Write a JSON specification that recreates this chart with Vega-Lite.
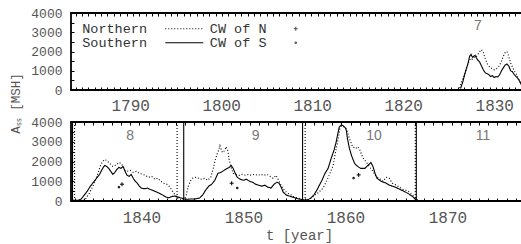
{
  "$schema": "https://vega.github.io/schema/vega-lite/v6.json",
  "background": "white",
  "padding": {"left": 8, "top": 6, "right": 0, "bottom": 0},
  "bounds": "flush",
  "spacing": 32,
  "config": {
    "view": {"stroke": "#000", "strokeWidth": 1.8},
    "axis": {"grid": false, "domain": false, "labelFont": "Liberation Mono", "labelColor": "#555", "titleFont": "Liberation Mono", "titleColor": "#555", "titleFontWeight": "normal", "tickColor": "#000", "tickWidth": 1, "labelFlush": false, "format": "d"}
  },
  "datasets": {
    "topLines": [
      {"t":1826.3,"v":80,"h":"Southern"},{"t":1826.5,"v":350,"h":"Southern"},{"t":1826.7,"v":700,"h":"Southern"},{"t":1826.9,"v":1050,"h":"Southern"},{"t":1827.1,"v":1350,"h":"Southern"},{"t":1827.3,"v":1750,"h":"Southern"},{"t":1827.45,"v":1850,"h":"Southern"},{"t":1827.6,"v":1700,"h":"Southern"},{"t":1827.75,"v":1750,"h":"Southern"},{"t":1827.9,"v":1800,"h":"Southern"},{"t":1828.05,"v":1650,"h":"Southern"},{"t":1828.2,"v":1550,"h":"Southern"},{"t":1828.4,"v":1450,"h":"Southern"},{"t":1828.6,"v":1250,"h":"Southern"},{"t":1828.8,"v":1050,"h":"Southern"},{"t":1829.0,"v":900,"h":"Southern"},{"t":1829.2,"v":850,"h":"Southern"},{"t":1829.4,"v":800,"h":"Southern"},{"t":1829.6,"v":700,"h":"Southern"},{"t":1829.8,"v":750,"h":"Southern"},{"t":1830.0,"v":650,"h":"Southern"},{"t":1830.2,"v":700,"h":"Southern"},{"t":1830.4,"v":680,"h":"Southern"},{"t":1830.6,"v":800,"h":"Southern"},{"t":1830.8,"v":1000,"h":"Southern"},{"t":1831.0,"v":1150,"h":"Southern"},{"t":1831.2,"v":1300,"h":"Southern"},{"t":1831.4,"v":1350,"h":"Southern"},{"t":1831.6,"v":1250,"h":"Southern"},{"t":1831.8,"v":1000,"h":"Southern"},{"t":1832.0,"v":950,"h":"Southern"},{"t":1832.2,"v":800,"h":"Southern"},{"t":1832.4,"v":700,"h":"Southern"},{"t":1832.6,"v":600,"h":"Southern"},{"t":1832.8,"v":450,"h":"Southern"},{"t":1833.0,"v":250,"h":"Southern"},{"t":1833.2,"v":100,"h":"Southern"},{"t":1833.4,"v":30,"h":"Southern"},
      {"t":1826.2,"v":100,"h":"Northern"},{"t":1826.4,"v":400,"h":"Northern"},{"t":1826.6,"v":650,"h":"Northern"},{"t":1826.8,"v":900,"h":"Northern"},{"t":1827.0,"v":1200,"h":"Northern"},{"t":1827.2,"v":1450,"h":"Northern"},{"t":1827.4,"v":1650,"h":"Northern"},{"t":1827.6,"v":1600,"h":"Northern"},{"t":1827.8,"v":1700,"h":"Northern"},{"t":1828.0,"v":1700,"h":"Northern"},{"t":1828.2,"v":1850,"h":"Northern"},{"t":1828.4,"v":2000,"h":"Northern"},{"t":1828.6,"v":2100,"h":"Northern"},{"t":1828.8,"v":1950,"h":"Northern"},{"t":1829.0,"v":1650,"h":"Northern"},{"t":1829.2,"v":1400,"h":"Northern"},{"t":1829.4,"v":1250,"h":"Northern"},{"t":1829.6,"v":1150,"h":"Northern"},{"t":1829.8,"v":1100,"h":"Northern"},{"t":1830.0,"v":1050,"h":"Northern"},{"t":1830.2,"v":1100,"h":"Northern"},{"t":1830.4,"v":1150,"h":"Northern"},{"t":1830.6,"v":1300,"h":"Northern"},{"t":1830.8,"v":1500,"h":"Northern"},{"t":1831.0,"v":1750,"h":"Northern"},{"t":1831.2,"v":1950,"h":"Northern"},{"t":1831.4,"v":2000,"h":"Northern"},{"t":1831.6,"v":1750,"h":"Northern"},{"t":1831.8,"v":1400,"h":"Northern"},{"t":1832.0,"v":1200,"h":"Northern"},{"t":1832.2,"v":1000,"h":"Northern"},{"t":1832.4,"v":850,"h":"Northern"},{"t":1832.6,"v":650,"h":"Northern"},{"t":1832.8,"v":450,"h":"Northern"},{"t":1833.0,"v":250,"h":"Northern"},{"t":1833.2,"v":80,"h":"Northern"},{"t":1833.4,"v":20,"h":"Northern"}
    ],
    "botLines": [
      {"t":1833.1,"v":30,"h":"Southern"},{"t":1833.4,"v":30,"h":"Southern"},{"t":1833.8,"v":40,"h":"Southern"},{"t":1834.1,"v":100,"h":"Southern"},{"t":1834.4,"v":300,"h":"Southern"},{"t":1834.7,"v":500,"h":"Southern"},{"t":1835.0,"v":750,"h":"Southern"},{"t":1835.3,"v":950,"h":"Southern"},{"t":1835.6,"v":1150,"h":"Southern"},{"t":1835.9,"v":1350,"h":"Southern"},{"t":1836.2,"v":1650,"h":"Southern"},{"t":1836.4,"v":1800,"h":"Southern"},{"t":1836.6,"v":1750,"h":"Southern"},{"t":1836.8,"v":1650,"h":"Southern"},{"t":1837.0,"v":1500,"h":"Southern"},{"t":1837.2,"v":1350,"h":"Southern"},{"t":1837.4,"v":1450,"h":"Southern"},{"t":1837.6,"v":1600,"h":"Southern"},{"t":1837.8,"v":1700,"h":"Southern"},{"t":1838.0,"v":1650,"h":"Southern"},{"t":1838.2,"v":1750,"h":"Southern"},{"t":1838.4,"v":1500,"h":"Southern"},{"t":1838.6,"v":1300,"h":"Southern"},{"t":1838.8,"v":1250,"h":"Southern"},{"t":1839.0,"v":1350,"h":"Southern"},{"t":1839.2,"v":1150,"h":"Southern"},{"t":1839.4,"v":1000,"h":"Southern"},{"t":1839.6,"v":900,"h":"Southern"},{"t":1839.8,"v":750,"h":"Southern"},{"t":1840.0,"v":650,"h":"Southern"},{"t":1840.3,"v":620,"h":"Southern"},{"t":1840.6,"v":650,"h":"Southern"},{"t":1840.9,"v":580,"h":"Southern"},{"t":1841.2,"v":520,"h":"Southern"},{"t":1841.5,"v":450,"h":"Southern"},{"t":1841.8,"v":380,"h":"Southern"},{"t":1842.1,"v":300,"h":"Southern"},{"t":1842.4,"v":200,"h":"Southern"},{"t":1842.7,"v":160,"h":"Southern"},{"t":1843.0,"v":230,"h":"Southern"},{"t":1843.3,"v":250,"h":"Southern"},{"t":1843.6,"v":200,"h":"Southern"},{"t":1843.9,"v":150,"h":"Southern"},{"t":1844.2,"v":100,"h":"Southern"},{"t":1844.5,"v":90,"h":"Southern"},{"t":1844.8,"v":100,"h":"Southern"},{"t":1845.1,"v":100,"h":"Southern"},{"t":1845.4,"v":120,"h":"Southern"},{"t":1845.7,"v":150,"h":"Southern"},{"t":1846.0,"v":300,"h":"Southern"},{"t":1846.3,"v":550,"h":"Southern"},{"t":1846.6,"v":750,"h":"Southern"},{"t":1846.9,"v":850,"h":"Southern"},{"t":1847.2,"v":1050,"h":"Southern"},{"t":1847.5,"v":1400,"h":"Southern"},{"t":1847.8,"v":1450,"h":"Southern"},{"t":1848.1,"v":1550,"h":"Southern"},{"t":1848.4,"v":1650,"h":"Southern"},{"t":1848.6,"v":1700,"h":"Southern"},{"t":1848.8,"v":1800,"h":"Southern"},{"t":1849.0,"v":1650,"h":"Southern"},{"t":1849.2,"v":1400,"h":"Southern"},{"t":1849.4,"v":1200,"h":"Southern"},{"t":1849.7,"v":1100,"h":"Southern"},{"t":1850.0,"v":1050,"h":"Southern"},{"t":1850.3,"v":1100,"h":"Southern"},{"t":1850.6,"v":1000,"h":"Southern"},{"t":1850.9,"v":950,"h":"Southern"},{"t":1851.2,"v":850,"h":"Southern"},{"t":1851.5,"v":800,"h":"Southern"},{"t":1851.8,"v":750,"h":"Southern"},{"t":1852.1,"v":800,"h":"Southern"},{"t":1852.4,"v":700,"h":"Southern"},{"t":1852.7,"v":650,"h":"Southern"},{"t":1853.0,"v":850,"h":"Southern"},{"t":1853.3,"v":950,"h":"Southern"},{"t":1853.5,"v":900,"h":"Southern"},{"t":1853.7,"v":700,"h":"Southern"},{"t":1853.9,"v":450,"h":"Southern"},{"t":1854.2,"v":300,"h":"Southern"},{"t":1854.5,"v":250,"h":"Southern"},{"t":1854.8,"v":200,"h":"Southern"},{"t":1855.1,"v":150,"h":"Southern"},{"t":1855.4,"v":100,"h":"Southern"},{"t":1855.7,"v":80,"h":"Southern"},{"t":1856.0,"v":50,"h":"Southern"},{"t":1856.3,"v":60,"h":"Southern"},{"t":1856.6,"v":150,"h":"Southern"},{"t":1856.9,"v":300,"h":"Southern"},{"t":1857.2,"v":550,"h":"Southern"},{"t":1857.5,"v":850,"h":"Southern"},{"t":1857.7,"v":1050,"h":"Southern"},{"t":1858.0,"v":1400,"h":"Southern"},{"t":1858.3,"v":1650,"h":"Southern"},{"t":1858.6,"v":2150,"h":"Southern"},{"t":1858.9,"v":2600,"h":"Southern"},{"t":1859.1,"v":3000,"h":"Southern"},{"t":1859.25,"v":3400,"h":"Southern"},{"t":1859.4,"v":3750,"h":"Southern"},{"t":1859.6,"v":3850,"h":"Southern"},{"t":1859.8,"v":3800,"h":"Southern"},{"t":1860.0,"v":3700,"h":"Southern"},{"t":1860.1,"v":3550,"h":"Southern"},{"t":1860.2,"v":3150,"h":"Southern"},{"t":1860.4,"v":2650,"h":"Southern"},{"t":1860.6,"v":2300,"h":"Southern"},{"t":1860.9,"v":1900,"h":"Southern"},{"t":1861.2,"v":1750,"h":"Southern"},{"t":1861.5,"v":1650,"h":"Southern"},{"t":1861.9,"v":1650,"h":"Southern"},{"t":1862.2,"v":1800,"h":"Southern"},{"t":1862.5,"v":1950,"h":"Southern"},{"t":1862.7,"v":1750,"h":"Southern"},{"t":1862.9,"v":1400,"h":"Southern"},{"t":1863.1,"v":1150,"h":"Southern"},{"t":1863.5,"v":1000,"h":"Southern"},{"t":1864.0,"v":900,"h":"Southern"},{"t":1864.3,"v":800,"h":"Southern"},{"t":1864.8,"v":720,"h":"Southern"},{"t":1865.3,"v":600,"h":"Southern"},{"t":1865.9,"v":450,"h":"Southern"},{"t":1866.3,"v":330,"h":"Southern"},{"t":1866.6,"v":220,"h":"Southern"},{"t":1866.9,"v":60,"h":"Southern"},{"t":1867.1,"v":10,"h":"Southern"},
      {"t":1833.1,"v":20,"h":"Northern"},{"t":1833.8,"v":20,"h":"Northern"},{"t":1834.3,"v":30,"h":"Northern"},{"t":1834.6,"v":150,"h":"Northern"},{"t":1834.9,"v":400,"h":"Northern"},{"t":1835.2,"v":700,"h":"Northern"},{"t":1835.5,"v":1050,"h":"Northern"},{"t":1835.8,"v":1500,"h":"Northern"},{"t":1836.0,"v":1800,"h":"Northern"},{"t":1836.2,"v":2000,"h":"Northern"},{"t":1836.4,"v":2100,"h":"Northern"},{"t":1836.6,"v":2050,"h":"Northern"},{"t":1836.8,"v":1950,"h":"Northern"},{"t":1837.0,"v":1850,"h":"Northern"},{"t":1837.2,"v":1750,"h":"Northern"},{"t":1837.4,"v":1800,"h":"Northern"},{"t":1837.6,"v":1850,"h":"Northern"},{"t":1837.8,"v":1950,"h":"Northern"},{"t":1838.0,"v":1900,"h":"Northern"},{"t":1838.2,"v":1750,"h":"Northern"},{"t":1838.4,"v":1550,"h":"Northern"},{"t":1838.6,"v":1500,"h":"Northern"},{"t":1838.9,"v":1550,"h":"Northern"},{"t":1839.2,"v":1450,"h":"Northern"},{"t":1839.5,"v":1500,"h":"Northern"},{"t":1839.8,"v":1400,"h":"Northern"},{"t":1840.1,"v":1350,"h":"Northern"},{"t":1840.4,"v":1300,"h":"Northern"},{"t":1840.7,"v":1200,"h":"Northern"},{"t":1841.0,"v":1250,"h":"Northern"},{"t":1841.3,"v":1100,"h":"Northern"},{"t":1841.6,"v":1150,"h":"Northern"},{"t":1841.9,"v":1000,"h":"Northern"},{"t":1842.2,"v":900,"h":"Northern"},{"t":1842.5,"v":850,"h":"Northern"},{"t":1842.8,"v":700,"h":"Northern"},{"t":1843.1,"v":450,"h":"Northern"},{"t":1843.4,"v":250,"h":"Northern"},{"t":1843.6,"v":100,"h":"Northern"},{"t":1843.9,"v":50,"h":"Northern"},{"t":1844.2,"v":80,"h":"Northern"},{"t":1844.4,"v":300,"h":"Northern"},{"t":1844.6,"v":750,"h":"Northern"},{"t":1844.8,"v":1000,"h":"Northern"},{"t":1845.0,"v":1150,"h":"Northern"},{"t":1845.3,"v":1200,"h":"Northern"},{"t":1845.6,"v":1150,"h":"Northern"},{"t":1845.9,"v":1100,"h":"Northern"},{"t":1846.2,"v":1150,"h":"Northern"},{"t":1846.5,"v":1050,"h":"Northern"},{"t":1846.8,"v":1200,"h":"Northern"},{"t":1847.0,"v":1550,"h":"Northern"},{"t":1847.2,"v":2000,"h":"Northern"},{"t":1847.4,"v":2350,"h":"Northern"},{"t":1847.6,"v":2600,"h":"Northern"},{"t":1847.7,"v":2800,"h":"Northern"},{"t":1847.9,"v":2500,"h":"Northern"},{"t":1848.0,"v":2450,"h":"Northern"},{"t":1848.2,"v":2600,"h":"Northern"},{"t":1848.3,"v":2750,"h":"Northern"},{"t":1848.5,"v":2500,"h":"Northern"},{"t":1848.6,"v":2100,"h":"Northern"},{"t":1848.8,"v":1700,"h":"Northern"},{"t":1849.0,"v":1400,"h":"Northern"},{"t":1849.3,"v":1350,"h":"Northern"},{"t":1849.6,"v":1300,"h":"Northern"},{"t":1849.9,"v":1350,"h":"Northern"},{"t":1850.2,"v":1300,"h":"Northern"},{"t":1850.5,"v":1350,"h":"Northern"},{"t":1850.8,"v":1300,"h":"Northern"},{"t":1851.1,"v":1350,"h":"Northern"},{"t":1851.4,"v":1300,"h":"Northern"},{"t":1851.7,"v":1350,"h":"Northern"},{"t":1852.0,"v":1300,"h":"Northern"},{"t":1852.3,"v":1350,"h":"Northern"},{"t":1852.6,"v":1250,"h":"Northern"},{"t":1852.9,"v":1150,"h":"Northern"},{"t":1853.2,"v":1300,"h":"Northern"},{"t":1853.4,"v":1100,"h":"Northern"},{"t":1853.7,"v":800,"h":"Northern"},{"t":1854.0,"v":550,"h":"Northern"},{"t":1854.3,"v":400,"h":"Northern"},{"t":1854.7,"v":300,"h":"Northern"},{"t":1855.0,"v":200,"h":"Northern"},{"t":1855.4,"v":150,"h":"Northern"},{"t":1855.8,"v":80,"h":"Northern"},{"t":1856.1,"v":40,"h":"Northern"},{"t":1856.4,"v":80,"h":"Northern"},{"t":1856.7,"v":150,"h":"Northern"},{"t":1857.0,"v":300,"h":"Northern"},{"t":1857.4,"v":450,"h":"Northern"},{"t":1857.8,"v":650,"h":"Northern"},{"t":1858.1,"v":950,"h":"Northern"},{"t":1858.4,"v":1300,"h":"Northern"},{"t":1858.8,"v":1800,"h":"Northern"},{"t":1858.95,"v":2250,"h":"Northern"},{"t":1859.1,"v":2650,"h":"Northern"},{"t":1859.3,"v":3150,"h":"Northern"},{"t":1859.45,"v":3650,"h":"Northern"},{"t":1859.6,"v":3800,"h":"Northern"},{"t":1859.9,"v":3750,"h":"Northern"},{"t":1860.1,"v":3650,"h":"Northern"},{"t":1860.25,"v":3400,"h":"Northern"},{"t":1860.4,"v":3150,"h":"Northern"},{"t":1860.7,"v":2750,"h":"Northern"},{"t":1861.0,"v":2650,"h":"Northern"},{"t":1861.2,"v":2750,"h":"Northern"},{"t":1861.4,"v":2600,"h":"Northern"},{"t":1861.7,"v":2200,"h":"Northern"},{"t":1862.0,"v":2000,"h":"Northern"},{"t":1862.4,"v":1700,"h":"Northern"},{"t":1862.7,"v":1500,"h":"Northern"},{"t":1863.0,"v":1250,"h":"Northern"},{"t":1863.3,"v":1150,"h":"Northern"},{"t":1863.7,"v":1000,"h":"Northern"},{"t":1864.0,"v":1200,"h":"Northern"},{"t":1864.3,"v":1150,"h":"Northern"},{"t":1864.6,"v":900,"h":"Northern"},{"t":1865.0,"v":800,"h":"Northern"},{"t":1865.3,"v":700,"h":"Northern"},{"t":1865.6,"v":600,"h":"Northern"},{"t":1865.9,"v":550,"h":"Northern"},{"t":1866.3,"v":450,"h":"Northern"},{"t":1866.6,"v":300,"h":"Northern"},{"t":1866.9,"v":100,"h":"Northern"},{"t":1867.2,"v":20,"h":"Northern"}
    ],
    "botCW": [
      {"t":1838.1,"v":850,"cw":"CW of N"},{"t":1837.8,"v":700,"cw":"CW of S"},
      {"t":1848.85,"v":900,"cw":"CW of N"},{"t":1849.4,"v":660,"cw":"CW of S"},
      {"t":1861.3,"v":1320,"cw":"CW of N"},{"t":1860.8,"v":1160,"cw":"CW of S"}
    ],
    "botBounds": [
      {"t":1833.25,"h":"Southern"},{"t":1833.45,"h":"Northern"},
      {"t":1843.5,"h":"Northern"},{"t":1844.15,"h":"Southern"},
      {"t":1855.8,"h":"Southern"},{"t":1856.05,"h":"Northern"},
      {"t":1866.85,"h":"Northern"},{"t":1866.95,"h":"Southern"}
    ],
    "topLabels": [{"t":1828.2,"v":3300,"lab":"7"}],
    "botLabels": [
      {"t":1838.9,"v":3300,"lab":"8"},{"t":1851.2,"v":3300,"lab":"9"},
      {"t":1862.8,"v":3300,"lab":"10"},{"t":1873.5,"v":3300,"lab":"11"}
    ]
  },
  "resolve": {"scale": {"x": "independent", "y": "independent", "strokeDash": "independent", "shape": "independent"}},
  "vconcat": [
    {
      "width": 456,
      "height": 77,
      "resolve": {"axis": {"x": "independent", "y": "independent"}},
      "layer": [
        {
          "data": {"name": "topLines"},
          "mark": {"type": "line", "clip": true, "strokeWidth": 1.1, "color": "#000"},
          "encoding": {
            "x": {"field": "t", "type": "quantitative", "scale": {"domain": [1783.5, 1833.6], "nice": false, "zero": false},
                  "axis": {"orient": "bottom", "values": [1790, 1800, 1810, 1820, 1830], "ticks": false, "labelPadding": 7, "labelFontSize": 16, "title": null}},
            "y": {"field": "v", "type": "quantitative", "scale": {"domain": [0, 4000], "nice": false, "zero": true},
                  "axis": {"orient": "left", "values": [0, 1000, 2000, 3000, 4000], "ticks": false, "labelPadding": 9, "labelFontSize": 13, "title": null}},
            "strokeDash": {"field": "h", "type": "nominal", "scale": {"domain": ["Northern", "Southern"], "range": [[1, 2], [1, 0]]},
                  "legend": {"orient": "none", "legendX": 106.5, "legendY": 9, "title": null, "symbolType": "M-4,0H4", "symbolSize": 90, "symbolStrokeWidth": 1.1, "symbolStrokeColor": "#000", "labelAlign": "right", "labelOffset": -44, "padding": 0, "rowPadding": -3, "labelFont": "Liberation Mono", "labelFontSize": 13.5, "labelColor": "#333"}},
            "detail": {"field": "h"}
          }
        },
        {
          "data": {"values": []},
          "mark": {"type": "point", "filled": false, "stroke": "#000", "strokeWidth": 1, "size": 16, "clip": true},
          "encoding": {
            "x": {"field": "t", "type": "quantitative", "axis": {"orient": "top", "values": [1784.0,1784.7,1785.4,1786.1,1786.8,1787.5,1788.2,1788.9,1789.6,1790.3,1791.0,1791.7,1792.4,1793.1,1793.8,1794.5,1795.2,1795.9,1796.6,1797.3,1798.0,1798.7,1799.4,1800.1,1800.8,1801.5,1802.2,1802.9,1803.6,1804.3,1805.0,1805.7,1806.4,1807.1,1807.8,1808.5,1809.2,1809.9,1810.6,1811.3,1812.0,1812.7,1813.4,1814.1,1814.8,1815.5,1816.2,1816.9,1817.6,1818.3,1819.0,1819.7,1820.4,1821.1,1821.8,1822.5,1823.2,1823.9,1824.6,1825.3,1826.0,1826.7,1827.4,1828.1,1828.8,1829.5,1830.2,1830.9,1831.6,1832.3,1833.0], "labels": false, "tickSize": -3, "title": null}},
            "y": {"field": "v", "type": "quantitative", "axis": {"orient": "left", "values": [0,500,1000,1500,2000,2500,3000,3500,4000], "labels": false, "tickSize": -3, "title": null}},
            "shape": {"field": "cw", "type": "nominal", "scale": {"domain": ["CW of N", "CW of S"], "range": ["M-1,0L1,0M0,-1L0,1", "M-0.35,-0.35L0.35,-0.35L0.35,0.35L-0.35,0.35Z"]},
                  "legend": {"orient": "none", "legendX": 218, "legendY": 9, "title": null, "symbolSize": 16, "symbolStrokeWidth": 1, "symbolStrokeColor": "#000", "symbolFillColor": "transparent", "labelAlign": "right", "labelOffset": -36, "padding": 0, "rowPadding": -3, "labelFont": "Liberation Mono", "labelFontSize": 13.5, "labelColor": "#333"}}
          }
        },
        {
          "data": {"name": "topLabels"},
          "mark": {"type": "text", "font": "Liberation Sans", "fontSize": 14, "color": "#777", "baseline": "middle", "align": "center"},
          "encoding": {
            "x": {"field": "t", "type": "quantitative", "axis": {"orient": "bottom", "values": [1784.0,1784.7,1785.4,1786.1,1786.8,1787.5,1788.2,1788.9,1789.6,1790.3,1791.0,1791.7,1792.4,1793.1,1793.8,1794.5,1795.2,1795.9,1796.6,1797.3,1798.0,1798.7,1799.4,1800.1,1800.8,1801.5,1802.2,1802.9,1803.6,1804.3,1805.0,1805.7,1806.4,1807.1,1807.8,1808.5,1809.2,1809.9,1810.6,1811.3,1812.0,1812.7,1813.4,1814.1,1814.8,1815.5,1816.2,1816.9,1817.6,1818.3,1819.0,1819.7,1820.4,1821.1,1821.8,1822.5,1823.2,1823.9,1824.6,1825.3,1826.0,1826.7,1827.4,1828.1,1828.8,1829.5,1830.2,1830.9,1831.6,1832.3,1833.0], "labels": false, "tickSize": -3, "title": null}},
            "y": {"field": "v", "type": "quantitative", "axis": {"orient": "right", "values": [1000, 2000, 3000], "labels": false, "tickSize": -3, "title": null}},
            "text": {"field": "lab"}
          }
        }
      ]
    },
    {
      "width": 456,
      "height": 79,
      "resolve": {"axis": {"x": "independent", "y": "independent"}},
      "layer": [
        {
          "data": {"name": "botLines"},
          "mark": {"type": "line", "clip": true, "strokeWidth": 1.1, "color": "#000"},
          "encoding": {
            "x": {"field": "t", "type": "quantitative", "scale": {"domain": [1833.1, 1877.8], "nice": false, "zero": false},
                  "axis": {"orient": "bottom", "values": [1840, 1850, 1860, 1870], "ticks": false, "labelPadding": 8, "labelFontSize": 16, "title": "t [year]", "titleFontSize": 14, "titlePadding": 3}},
            "y": {"field": "v", "type": "quantitative", "scale": {"domain": [0, 4000], "nice": false, "zero": true},
                  "axis": {"orient": "left", "values": [0, 1000, 2000, 3000, 4000], "ticks": false, "labelPadding": 9, "labelFontSize": 13, "title": "Aₛₛ [MSH]", "titleFontSize": 12.5, "titleX": -52, "titleY": -19, "titleAlign": "center", "titleBaseline": "alphabetic", "titleAngle": 270}},
            "strokeDash": {"field": "h", "type": "nominal", "scale": {"domain": ["Northern", "Southern"], "range": [[1, 2], [1, 0]]}, "legend": null},
            "detail": {"field": "h"}
          }
        },
        {
          "data": {"name": "botBounds"},
          "mark": {"type": "rule", "strokeWidth": 1.1, "color": "#000"},
          "encoding": {
            "x": {"field": "t", "type": "quantitative", "axis": null},
            "strokeDash": {"field": "h", "type": "nominal", "legend": null}
          }
        },
        {
          "data": {"name": "botCW"},
          "mark": {"type": "point", "filled": false, "stroke": "#000", "strokeWidth": 1, "size": 16, "opacity": 1, "clip": true},
          "encoding": {
            "x": {"field": "t", "type": "quantitative", "axis": {"orient": "top", "values": [1833.5,1834.4,1835.3,1836.2,1837.1,1838.0,1838.9,1839.8,1840.7,1841.6,1842.5,1843.4,1844.3,1845.2,1846.1,1847.0,1847.9,1848.8,1849.7,1850.6,1851.5,1852.4,1853.3,1854.2,1855.1,1856.0,1856.9,1857.8,1858.7,1859.6,1860.5,1861.4,1862.3,1863.2,1864.1,1865.0,1865.9,1866.8,1867.7,1868.6,1869.5,1870.4,1871.3,1872.2,1873.1,1874.0,1874.9,1875.8,1876.7,1877.6], "labels": false, "tickSize": -3, "title": null}},
            "y": {"field": "v", "type": "quantitative", "axis": {"orient": "left", "values": [0,500,1000,1500,2000,2500,3000,3500,4000], "labels": false, "tickSize": -3, "title": null}},
            "shape": {"field": "cw", "type": "nominal", "scale": {"domain": ["CW of N", "CW of S"], "range": ["M-1,0L1,0M0,-1L0,1", "M-0.35,-0.35L0.35,-0.35L0.35,0.35L-0.35,0.35Z"]}, "legend": null}
          }
        },
        {
          "data": {"name": "botLabels"},
          "mark": {"type": "text", "font": "Liberation Sans", "fontSize": 14, "color": "#777", "baseline": "middle", "align": "center"},
          "encoding": {
            "x": {"field": "t", "type": "quantitative", "axis": {"orient": "bottom", "values": [1833.5,1834.4,1835.3,1836.2,1837.1,1838.0,1838.9,1839.8,1840.7,1841.6,1842.5,1843.4,1844.3,1845.2,1846.1,1847.0,1847.9,1848.8,1849.7,1850.6,1851.5,1852.4,1853.3,1854.2,1855.1,1856.0,1856.9,1857.8,1858.7,1859.6,1860.5,1861.4,1862.3,1863.2,1864.1,1865.0,1865.9,1866.8,1867.7,1868.6,1869.5,1870.4,1871.3,1872.2,1873.1,1874.0,1874.9,1875.8,1876.7,1877.6], "labels": false, "tickSize": -3, "title": null}},
            "y": {"field": "v", "type": "quantitative", "axis": {"orient": "right", "values": [1000, 2000, 3000], "labels": false, "tickSize": -3, "title": null}},
            "text": {"field": "lab"}
          }
        }
      ]
    }
  ]
}
